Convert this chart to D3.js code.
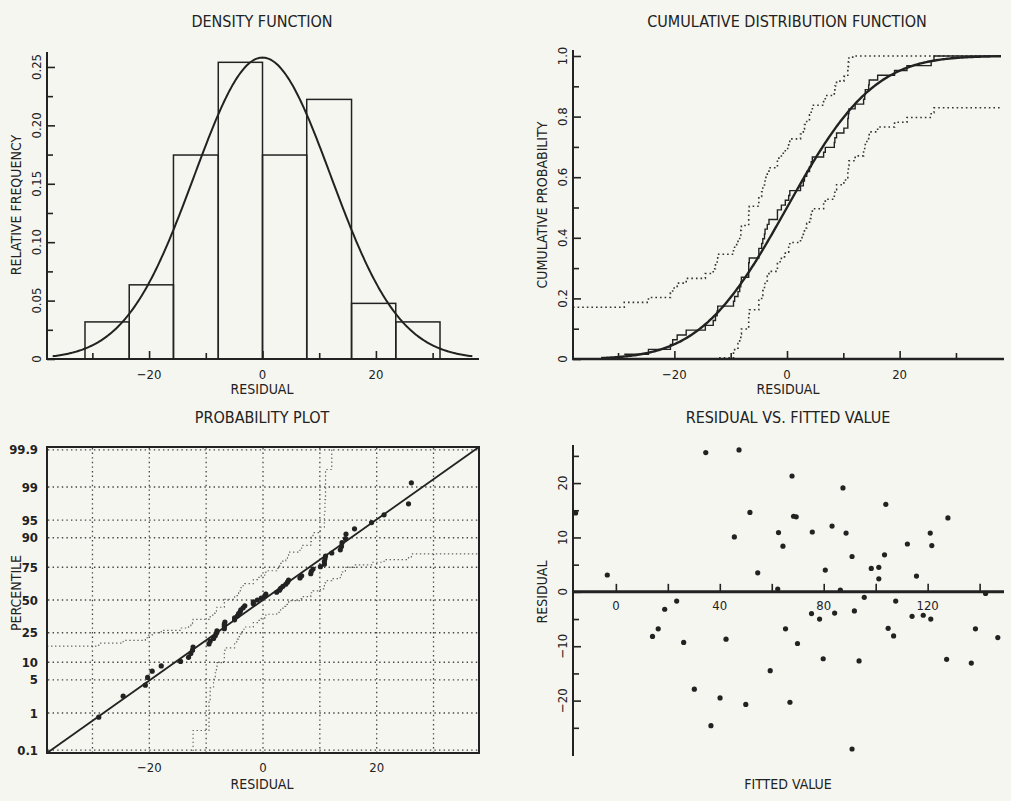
<!DOCTYPE html>
<html>
<head>
<meta charset="utf-8">
<script src="https://cdn.jsdelivr.net/npm/d3@7"></script>
<style>
  body { margin: 0; background: #f6f6f0; }
  svg { display: block; }
  text { font-family: "Liberation Sans Narrow", "DejaVu Sans Condensed", "Arial Narrow", sans-serif; fill: #222; }
  .ax path.domain { display: none; }
  .ax line { stroke: #222; stroke-width: 1.6; }
</style>
</head>
<body>
<svg id="chart" width="1011" height="801"></svg>
<script>
// residuals and fitted values
var fitted = [-15.5, -3.3, 14.1, 16.3, 18.8, 23.4, 26.1, 30.2, 34.6, 36.6,
  40.1, 42.4, 45.6, 47.4, 50.0, 51.6, 54.6, 59.4, 62.3, 62.6,
  64.3, 65.3, 67.0, 67.8, 68.4, 69.4, 69.9, 75.3, 75.6, 78.4,
  79.8, 80.6, 83.2, 84.2, 86.4, 87.4, 88.6, 90.9, 90.9, 91.8,
  93.6, 95.6, 98.3, 101.2, 101.2, 103.4, 103.9, 104.8, 106.9, 107.7,
  112.2, 114.0, 115.7, 118.3, 121.0, 121.2, 121.6, 127.3, 127.8, 136.8,
  138.4, 142.3, 147.0];
var residual = [14.5, 3.1, -8.2, -6.8, -3.2, -1.7, -9.3, -17.9, 25.6, -24.6,
  -19.5, -8.7, 10.1, 26.1, -20.7, 14.6, 3.5, -14.5, 0.5, 10.9,
  8.4, -6.8, -20.3, 21.3, 13.9, 13.8, -9.5, -4.0, 11.0, -5.0,
  -12.3, 4.0, 12.1, -3.9, 0.3, 19.1, 10.8, 6.5, -28.9, -3.5,
  -12.7, -1.0, 4.3, 4.5, 2.4, 6.8, 16.1, -6.7, -8.1, -1.7,
  8.8, -4.5, 2.9, -4.3, 10.8, -5.0, 8.5, -12.4, 13.6, -13.1,
  -6.8, -0.3, -8.4];

var binEdges = [-31.3, -23.5, -15.7, -7.8, 0, 7.8, 15.7, 23.5, 31.3];
var fitMean = 0, fitSd = 12.06;   // fitted normal
var ksBand = 0.171;                // confidence band half width

var residMajor = [-20, 0, 20], residMinor = [-30, -10, 10, 30];
var freqMajor = [0, 0.05, 0.10, 0.15, 0.20, 0.25];
var freqMinor = [0.025, 0.075, 0.125, 0.175, 0.225];
var cumMajor = [0, 0.2, 0.4, 0.6, 0.8, 1.0];
var cumMinor = [0.1, 0.3, 0.5, 0.7, 0.9];
var pctTicks = [0.1, 1, 5, 10, 25, 50, 75, 90, 95, 99, 99.9];
var gridResid = [-30, -20, -10, 0, 10, 20, 30];
var fitTicks = [0, 20, 40, 60, 80, 100, 120, 140], fitLabels = [0, 40, 80, 120];
var resMajor4 = [-20, -10, 0, 10, 20], resMinor4 = [-25, -15, -5, 5, 15, 25];

var ink = '#222';
var svg = d3.select('#chart');
var n = residual.length;
var sorted = residual.slice().sort(d3.ascending);

// normal helpers
function erf(x) {
  var t = 1 / (1 + 0.3275911 * Math.abs(x));
  var y = 1 - (((((1.061405429 * t - 1.453152027) * t) + 1.421413741) * t - 0.284496736) * t + 0.254829592) * t * Math.exp(-x * x);
  return x >= 0 ? y : -y;
}
function pnorm(z) { return 0.5 * (1 + erf(z / Math.SQRT2)); }
function qnorm(p) {
  var a = [-3.969683028665376e+01, 2.209460984245205e+02, -2.759285104469687e+02, 1.383577518672690e+02, -3.066479806614716e+01, 2.506628277459239e+00];
  var b = [-5.447609879822406e+01, 1.615858368580409e+02, -1.556989798598866e+02, 6.680131188771972e+01, -1.328068155288572e+01];
  var c = [-7.784894002430293e-03, -3.223964580411365e-01, -2.400758277161838e+00, -2.549732539343734e+00, 4.374664141464968e+00, 2.938163982698783e+00];
  var d = [7.784695709041462e-03, 3.224671290700398e-01, 2.445134137142996e+00, 3.754408661907416e+00];
  var q, r;
  if (p < 0.02425) {
    q = Math.sqrt(-2 * Math.log(p));
    return (((((c[0]*q+c[1])*q+c[2])*q+c[3])*q+c[4])*q+c[5]) / ((((d[0]*q+d[1])*q+d[2])*q+d[3])*q+1);
  }
  if (p > 1 - 0.02425) {
    q = Math.sqrt(-2 * Math.log(1 - p));
    return -(((((c[0]*q+c[1])*q+c[2])*q+c[3])*q+c[4])*q+c[5]) / ((((d[0]*q+d[1])*q+d[2])*q+d[3])*q+1);
  }
  q = p - 0.5; r = q * q;
  return (((((a[0]*r+a[1])*r+a[2])*r+a[3])*r+a[4])*r+a[5])*q / (((((b[0]*r+b[1])*r+b[2])*r+b[3])*r+b[4])*r+1);
}

// empirical cdf as step points
var ecdf = [[-38, 0]];
sorted.forEach(function(v, i) { ecdf.push([v, (i + 1) / n]); });
ecdf.push([38, 1]);

function title(x, y, s) {
  svg.append('text').attr('x', x).attr('y', y).attr('text-anchor', 'middle')
    .style('font-size', '16px').text(s);
}
function label(x, y, s, rot) {
  var t = svg.append('text').attr('text-anchor', 'middle').style('font-size', '14px').text(s);
  if (rot) t.attr('transform', 'translate(' + x + ',' + y + ') rotate(-90)');
  else t.attr('x', x).attr('y', y);
}
function xTicks(scale, y, major, minor, labels, labelY) {
  svg.append('g').attr('class', 'ax').attr('transform', 'translate(0,' + y + ')')
    .call(d3.axisTop(scale).tickValues(major).tickSize(8).tickFormat(''));
  if (minor) svg.append('g').attr('class', 'ax').attr('transform', 'translate(0,' + y + ')')
    .call(d3.axisTop(scale).tickValues(minor).tickSize(6).tickFormat(''));
  svg.append('g').selectAll('text').data(labels).join('text')
    .attr('x', function(d) { return scale(d); }).attr('y', labelY)
    .attr('text-anchor', 'middle').style('font-size', '13px')
    .text(function(d) { return d < 0 ? '\u2212' + Math.abs(d) : d; });
}
function yTicks(scale, x, major, minor, fmt) {
  svg.append('g').attr('class', 'ax').attr('transform', 'translate(' + x + ',0)')
    .call(d3.axisRight(scale).tickValues(major).tickSize(8).tickFormat(''));
  svg.append('g').attr('class', 'ax').attr('transform', 'translate(' + x + ',0)')
    .call(d3.axisRight(scale).tickValues(minor).tickSize(6).tickFormat(''));
  svg.append('g').selectAll('text').data(major).join('text')
    .attr('transform', function(d) { return 'translate(' + (x - 6) + ',' + scale(d) + ') rotate(-90)'; })
    .attr('text-anchor', 'middle').style('font-size', '13px')
    .text(fmt);
}
function axisLine(x1, y1, x2, y2, w) {
  svg.append('line').attr('x1', x1).attr('y1', y1).attr('x2', x2).attr('y2', y2)
    .attr('stroke', ink).attr('stroke-width', w || 2);
}

// ---------- density function ----------
var x1 = d3.scaleLinear().domain([-38, 38]).range([47, 478]);
var y1 = d3.scaleLinear().domain([0, 0.2628]).range([359, 52]);
var bins = d3.bin().domain([binEdges[0], binEdges[binEdges.length - 1]])
  .thresholds(binEdges.slice(1, -1))(residual);
var binW = binEdges[1] - binEdges[0];

svg.append('g').selectAll('rect').data(bins).join('rect')
  .attr('x', function(d) { return x1(d.x0); })
  .attr('y', function(d) { return y1(d.length / n); })
  .attr('width', function(d) { return x1(d.x1) - x1(d.x0); })
  .attr('height', function(d) { return y1(0) - y1(d.length / n); })
  .attr('fill', 'none').attr('stroke', ink).attr('stroke-width', 1.5);

var pdfLine = d3.line()
  .x(function(d) { return x1(d); })
  .y(function(d) { var z = (d - fitMean) / fitSd; return y1(binW * Math.exp(-z * z / 2) / (fitSd * Math.sqrt(2 * Math.PI))); });
svg.append('path').datum(d3.range(-37, 37.01, 0.25)).attr('d', pdfLine)
  .attr('fill', 'none').attr('stroke', ink).attr('stroke-width', 2);

axisLine(47, 52, 47, 360);
axisLine(46, 359, 479, 359);
yTicks(y1, 47, freqMajor, freqMinor, function(d) { return d === 0 ? '0' : d3.format('.2f')(d); });
xTicks(x1, 359, residMajor, residMinor, residMajor, 379);
title(262, 27, 'DENSITY FUNCTION');
label(262, 394, 'RESIDUAL');
label(21, 205, 'RELATIVE FREQUENCY', true);

// ---------- cumulative distribution function ----------
var x2 = d3.scaleLinear().domain([-38, 38]).range([573, 1001]);
var y2 = d3.scaleLinear().domain([0, 1]).range([359, 56]);
var stepLine = d3.line().curve(d3.curveStepAfter)
  .x(function(d) { return x2(d[0]); }).y(function(d) { return y2(d[1]); });

svg.append('path').datum(ecdf.map(function(d) { return [d[0], Math.min(1, d[1] + ksBand)]; }))
  .attr('d', stepLine).attr('fill', 'none').attr('stroke', '#333')
  .attr('stroke-width', 1.6).attr('stroke-dasharray', '1.6,3');
svg.append('path').datum(ecdf.map(function(d) { return [d[0], Math.max(0, d[1] - ksBand)]; }))
  .attr('d', stepLine).attr('fill', 'none').attr('stroke', '#333')
  .attr('stroke-width', 1.6).attr('stroke-dasharray', '1.6,3');
svg.append('path').datum(ecdf.slice(1)).attr('d', stepLine)
  .attr('fill', 'none').attr('stroke', ink).attr('stroke-width', 1.4);

var cdfLine = d3.line()
  .x(function(d) { return x2(d); })
  .y(function(d) { return y2(pnorm((d - fitMean) / fitSd)); });
svg.append('path').datum(d3.range(-33, 38.01, 0.25)).attr('d', cdfLine)
  .attr('fill', 'none').attr('stroke', ink).attr('stroke-width', 2.4);

axisLine(573, 50, 573, 360);
axisLine(572, 359, 1004, 359, 2.4);
yTicks(y2, 573, cumMajor, cumMinor, function(d) { return d === 0 ? '0' : d3.format('.1f')(d); });
xTicks(x2, 359, residMajor, residMinor, residMajor, 379);
title(787, 27, 'CUMULATIVE DISTRIBUTION FUNCTION');
label(788, 394, 'RESIDUAL');
label(547, 205, 'CUMULATIVE PROBABILITY', true);

// ---------- probability plot ----------
var x3 = d3.scaleLinear().domain([-38, 38]).range([47, 479]);
var y3 = d3.scaleLinear().domain([-3.15, 3.15]).range([753, 447]);
function zClip(p) {
  if (p <= 0) return -3.15;
  if (p >= 1) return 3.15;
  return Math.max(-3.15, Math.min(3.15, qnorm(p)));
}
var grid = svg.append('g').attr('stroke', '#444').attr('stroke-width', 1.3).attr('stroke-dasharray', '1.4,3.2');
grid.selectAll('.gv').data(gridResid).join('line').attr('class', 'gv')
  .attr('x1', function(d) { return x3(d); }).attr('x2', function(d) { return x3(d); })
  .attr('y1', 448).attr('y2', 752);
grid.selectAll('.gh').data(pctTicks).join('line').attr('class', 'gh')
  .attr('y1', function(d) { return y3(qnorm(d / 100)); }).attr('y2', function(d) { return y3(qnorm(d / 100)); })
  .attr('x1', 48).attr('x2', 478);

var probStep = d3.line().curve(d3.curveStepAfter)
  .x(function(d) { return x3(d[0]); }).y(function(d) { return y3(zClip(d[1])); });
svg.append('path').datum(ecdf.map(function(d) { return [d[0], d[1] + ksBand]; }))
  .attr('d', probStep).attr('fill', 'none').attr('stroke', '#666')
  .attr('stroke-width', 1.2).attr('stroke-dasharray', '1.4,2.6');
svg.append('path').datum(ecdf.map(function(d) { return [d[0], d[1] - ksBand]; }))
  .attr('d', probStep).attr('fill', 'none').attr('stroke', '#666')
  .attr('stroke-width', 1.2).attr('stroke-dasharray', '1.4,2.6');

svg.append('line')
  .attr('x1', x3(-38)).attr('y1', y3((-38 - fitMean) / fitSd))
  .attr('x2', x3(38)).attr('y2', y3((38 - fitMean) / fitSd))
  .attr('stroke', ink).attr('stroke-width', 1.8);

svg.append('g').selectAll('circle').data(sorted).join('circle')
  .attr('cx', function(d) { return x3(d); })
  .attr('cy', function(d, i) { return y3(qnorm((i + 0.5) / n)); })
  .attr('r', 2.6).attr('fill', ink);

svg.append('rect').attr('x', 47).attr('y', 447).attr('width', 432).attr('height', 306)
  .attr('fill', 'none').attr('stroke', ink).attr('stroke-width', 2);
svg.append('g').selectAll('text').data(pctTicks).join('text')
  .attr('x', 38).attr('y', function(d) { return y3(qnorm(d / 100)); }).attr('dy', '0.35em')
  .attr('text-anchor', 'end').style('font-size', '13px').style('font-weight', 'bold')
  .text(function(d) { return d; });
svg.append('g').selectAll('text').data(residMajor).join('text')
  .attr('x', function(d) { return x3(d); }).attr('y', 772)
  .attr('text-anchor', 'middle').style('font-size', '13px')
  .text(function(d) { return d < 0 ? '\u2212' + Math.abs(d) : d; });
title(262, 423, 'PROBABILITY PLOT');
label(262, 789, 'RESIDUAL');
label(21, 593, 'PERCENTILE', true);

// ---------- residual vs fitted ----------
var x4 = d3.scaleLinear().domain([-16.5, 149]).range([573, 1003]);
var y4 = d3.scaleLinear().domain([-30, 27]).range([755, 445]);

svg.append('g').selectAll('circle').data(fitted).join('circle')
  .attr('cx', function(d) { return x4(d); })
  .attr('cy', function(d, i) { return y4(residual[i]); })
  .attr('r', 2.6).attr('fill', ink);

axisLine(573, 445, 573, 756);
axisLine(572, y4(0), 1004, y4(0), 3);
svg.append('g').attr('class', 'ax').attr('transform', 'translate(0,' + y4(0) + ')')
  .call(d3.axisTop(x4).tickValues(fitTicks).tickSize(8).tickFormat(''));
svg.append('g').selectAll('text').data(fitLabels).join('text')
  .attr('x', function(d) { return x4(d); }).attr('y', 610)
  .attr('text-anchor', 'middle').style('font-size', '13px').text(function(d) { return d; });
yTicks(y4, 573, resMajor4, resMinor4, function(d) { return d < 0 ? '\u2212' + Math.abs(d) : d; });
title(788, 423, 'RESIDUAL VS. FITTED VALUE');
label(788, 789, 'FITTED VALUE');
label(547, 592, 'RESIDUAL', true);
</script>
</body>
</html>
